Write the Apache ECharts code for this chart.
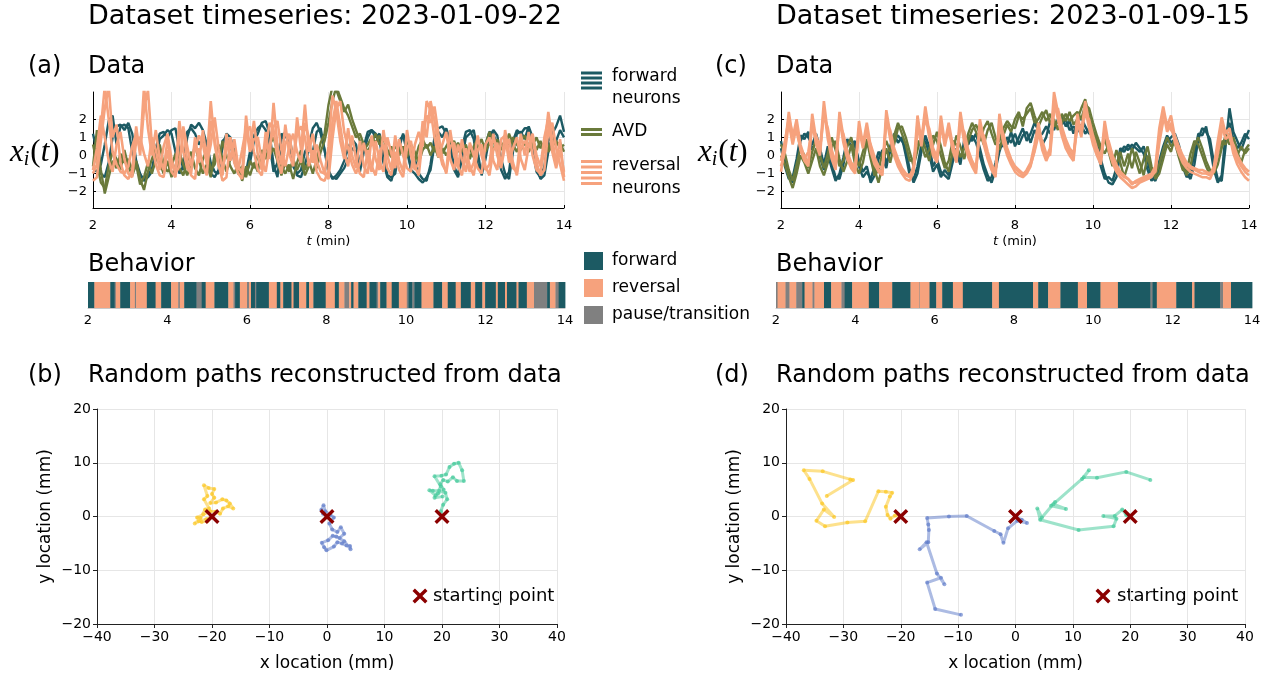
<!DOCTYPE html>
<html><head><meta charset="utf-8">
<script src="https://cdn.jsdelivr.net/npm/echarts@6/dist/echarts.min.js"></script>
<style>html,body{margin:0;padding:0;background:#fff}#c{width:1270px;height:676px}</style>
</head><body><div id="c"></div>
<script>
// ---------------- DATA ----------------
const timeStart = 2, timeStep = 0.1, timeCount = 121; // sample grid (min)
const yTicksData = [-2, -1, 0, 1, 2];

// Panel (a): dataset 2023-01-09-22
const revA1 = [-1.0,-0.5,1.5,3.8,2.0,0.2,-0.5,-0.9,-1.0,-0.6, 0.5,1.2,0.3,3.8,1.5,0.0,1.4,-0.2,-0.8,0.9, -0.5,-0.9,1.9,0.2,-0.7,-1.0,1.0,-0.4,1.4,-0.3, 3.0,0.6,-0.6,-1.1,1.2,-0.3,0.9,-0.6,-1.0,2.2, 0.3,1.9,0.0,-0.8,1.3,-0.2,2.9,0.5,-0.5,1.7, 0.1,-0.6,2.1,0.3,2.8,0.2,1.2,-0.3,-0.9,-1.0, 0.5,3.3,2.4,0.8,-0.2,1.5,0.0,-0.7,0.8,-0.6, -1.0,1.1,-0.2,-0.8,1.4,0.0,-0.8,1.1,-0.3,-0.9, 1.4,0.0,-0.8,-0.4,1.9,1.0,3.0,1.9,0.4,-0.5, -0.9,1.4,0.0,-0.7,0.9,-0.3,-0.9,-0.4,1.1,0.0, -0.8,-0.5,1.2,0.0,-0.7,1.4,0.1,-0.7,-0.9,1.2, 0.0,1.3,0.0,-0.8,-1.0,0.4,2.4,0.9,-0.4,0.9, -1.2];
const revA2 = [-1.4,-1.2,0.8,2.6,3.8,1.0,1.7,-0.4,-1.1,-1.3, -0.8,1.6,0.0,2.6,3.6,0.6,-0.5,-1.1,-1.2,0.3, -0.9,-1.2,1.1,1.4,-0.3,-1.1,-1.3,0.4,-0.5,-1.1, 1.9,0.9,-0.5,-1.4,-1.2,0.9,-0.4,-1.0,-1.3,1.2, 1.6,0.2,-0.8,-1.1,0.4,1.8,1.4,-0.2,-1.0,0.6, 1.2,-0.3,1.2,1.6,1.0,-0.6,0.3,-0.9,-1.3,-1.4, -0.8,1.8,3.0,1.6,0.2,-0.6,1.1,-0.2,-1.0,-1.2, 0.3,-0.6,-1.1,0.2,0.6,-0.7,-1.1,0.2,-0.8,-1.2, 0.4,0.8,-0.6,-1.1,1.0,2.2,1.8,2.7,1.2,-0.2, -1.0,0.5,0.7,-0.6,-1.1,0.4,-0.6,-1.1,0.3,0.6, -0.6,-1.1,0.3,0.7,-0.6,0.5,0.9,-0.4,-1.1,0.4, 0.8,0.5,1.0,-0.4,-1.1,-0.8,1.4,1.8,0.4,-0.5, -1.4];
const revA3 = [-0.8,0.4,2.2,1.0,-0.3,-0.9,0.6,1.3,-0.2,-1.0, -1.2,0.8,1.0,0.1,-0.6,1.0,0.3,-0.8,0.5,1.2, -0.2,-1.0,-0.6,1.6,0.5,-0.6,0.4,1.1,0.6,-0.5, 0.6,2.1,0.4,-0.8,0.3,1.0,0.0,-0.8,0.3,1.5, 0.2,0.9,1.0,-0.3,-0.9,0.5,1.6,1.9,0.3,-0.6, 0.5,1.2,0.2,-0.4,1.8,1.0,-0.4,0.6,-0.3,-1.0, -1.3,0.9,2.6,3.0,1.3,0.4,-0.5,-1.0,-0.4,0.7, -0.3,-0.9,0.8,-0.3,-0.9,1.0,0.1,-0.7,0.9,0.0, -0.7,-0.9,0.6,1.3,0.5,3.0,2.5,1.0,-0.1,0.6, 1.3,-0.2,-0.8,0.6,-0.2,-0.9,0.7,0.0,-0.7,-1.0, 0.6,1.0,-0.3,-0.8,0.9,1.1,-0.4,0.4,1.0,-0.2, -0.8,0.5,1.2,0.0,-0.6,1.0,2.0,0.2,-0.7,0.3, -0.9];
const fwdA1 = [-0.7,-0.9,-0.5,0.6,1.9,2.2,0.6,1.6,1.7,1.5, 0.2,-0.6,-1.1,-1.3,-1.0,-0.8,0.4,1.2,1.3,1.0, 1.4,1.5,0.3,-0.8,1.0,1.7,1.5,1.8,1.4,0.6, -0.4,-0.9,-1.0,0.5,1.2,1.0,0.3,-0.8,-1.2,-1.0, -0.4,0.8,1.2,1.8,1.9,1.2,-0.5,-1.2,0.9,1.3, 0.8,-0.6,-1.0,-0.8,0.2,0.6,1.5,1.8,1.2,0.3, -0.8,-1.3,-1.1,-0.8,-0.3,0.4,0.9,0.6,-0.5,0.5, 1.3,1.4,1.2,0.8,-0.4,-1.2,-1.4,-0.6,0.8,1.1, 0.2,-0.7,-0.2,-1.0,-1.3,-1.4,-0.5,1.0,1.5,1.6, 1.2,0.4,-0.6,-1.1,0.4,1.3,1.4,0.9,-0.5,-1.0, 0.6,1.3,1.2,0.5,-0.8,-1.3,-0.9,0.8,1.4,1.2, 1.5,1.5,0.3,-0.9,-1.2,-0.6,0.8,1.2,1.6,2.2, 1.3];
const fwdA2 = [1.2,0.2,-1.0,-1.2,-0.4,1.0,1.6,1.7,1.4,1.8, 1.2,-0.3,-1.0,-1.4,-1.2,-0.9,-0.2,0.9,1.1,1.4, 1.2,0.2,-1.0,-0.6,1.3,1.5,1.2,0.6,1.0,0.2, -1.0,-1.2,-0.8,0.8,1.0,0.6,-0.3,-1.0,-1.1,-0.9, 0.2,1.1,1.5,1.7,1.4,0.6,-0.9,-0.4,1.2,1.0, 1.1,-0.2,-1.1,-1.2,-0.5,0.3,0.2,1.3,1.5,0.3, -1.0,-1.2,-1.3,-1.0,-0.7,-0.2,0.4,0.2,-0.9,0.2, 1.0,1.4,1.0,1.2,0.2,-1.1,-1.2,-1.0,0.4,1.2, 0.6,-0.8,-1.0,-1.3,-1.5,-1.2,-0.8,0.6,1.3,1.0, 1.5,0.8,-0.8,-1.2,-0.2,1.0,1.2,1.4,0.2,-1.1, -0.2,1.0,1.4,1.1,-0.2,-1.0,-1.3,0.2,1.2,1.3, 0.9,1.6,1.0,-0.6,-1.3,-1.1,0.2,1.0,0.8,1.4, 1.0];
const avdA1 = [-0.6,1.4,-0.8,-2.1,-1.2,-0.3,-0.7,0.1,-0.4,-0.2, -0.8,-0.3,-1.3,-1.9,-0.9,-0.2,0.4,-0.4,-1.0,-0.3, -1.2,-0.6,0.2,-0.5,-1.1,-0.4,0.6,-0.3,-1.0,-0.5, -1.2,0.1,-0.4,0.8,0.0,-0.6,-1.0,-0.5,-1.4,-0.6, -1.1,-0.4,-0.9,0.3,-0.2,0.6,1.0,0.2,-0.6,-1.0, -0.5,-1.3,-0.4,0.3,-0.8,-0.3,-1.0,-0.2,0.7,1.2, 2.8,3.8,3.6,3.0,2.4,2.8,2.0,1.4,0.8,0.3, 0.6,1.0,0.7,1.1,0.4,0.0,0.5,-0.2,0.4,0.1, 0.8,0.3,-0.3,0.5,0.9,0.4,0.7,0.2,0.6,0.1, 0.5,0.9,0.3,0.7,0.2,0.6,-0.2,0.5,0.9,0.3, 0.6,1.3,0.8,0.2,0.7,0.4,1.2,0.6,0.2,0.8, 1.1,0.5,0.9,0.3,0.8,0.2,0.4,0.9,0.6,0.7, 0.2];
const avdA2 = [0.6,-0.4,-1.5,-1.8,-0.6,0.2,-0.2,-0.8,0.3,-0.6, -1.1,-0.5,-1.6,-1.2,-0.4,-1.0,-0.2,0.6,-0.5,-0.9, -0.6,0.1,-0.7,-1.1,-0.3,0.2,-0.7,-1.1,-0.2,0.3, -0.8,-0.5,0.6,-0.2,-0.9,-0.2,0.3,-0.9,-0.6,-1.2, -0.3,-0.7,0.0,-0.6,0.5,0.0,0.4,-0.3,-1.1,-0.4, -0.9,-0.2,-0.8,-0.3,-1.1,-0.6,0.1,-0.7,0.2,0.8, 1.8,3.0,3.8,3.2,2.6,2.2,1.6,1.0,1.2,0.6, 0.2,0.7,1.2,0.6,0.9,0.3,-0.1,0.6,0.0,0.5, -0.1,0.6,0.2,-0.4,0.3,0.6,0.0,0.5,-0.1,0.4, 0.0,0.4,0.8,0.2,0.6,0.1,0.4,-0.1,0.5,0.9, 0.2,0.7,0.3,0.9,0.3,0.8,0.5,1.0,0.6,0.3, 0.7,0.2,0.6,1.0,0.4,0.7,0.2,0.5,0.8,0.4, 0.6];

// Panel (c): dataset 2023-01-09-15
const revC1 = [-0.9,0.5,2.4,1.0,2.0,0.6,-0.1,-0.4,2.3,0.9, 0.2,3.0,1.2,0.0,-0.6,2.4,1.0,0.0,-0.5,-0.8, 1.9,0.6,1.8,0.5,-0.3,-0.8,-0.9,2.5,1.2,0.3, -0.4,-0.8,-1.1,-1.2,-0.6,2.2,0.8,2.7,1.3,0.2, -0.2,2.2,0.7,1.8,0.6,-0.2,2.4,1.0,0.1,-0.4, -0.8,2.0,0.9,0.0,-0.6,-1.0,2.3,1.0,0.2,-0.3, -0.7,-0.9,-1.1,-0.8,-0.4,0.6,1.8,0.6,-0.1,0.4, 3.5,2.4,1.4,0.7,0.2,-0.1,2.3,1.2,3.0,1.8, 0.9,0.2,-0.3,1.9,0.6,-0.2,-0.7,-1.0,-1.2,-1.3, -1.6,-1.4,-1.3,-1.2,-1.1,-1.0,-0.6,1.5,2.7,1.6, 2.2,1.0,0.3,-0.2,-0.5,-0.7,-0.8,-0.9,-1.0,-1.0, -1.1,-0.6,0.8,2.1,1.2,1.5,0.4,-0.2,-0.6,-0.9, -1.1];
const revC2 = [-0.6,0.2,1.8,0.6,1.6,0.3,-0.3,-0.6,1.8,0.6, 0.0,2.6,0.9,-0.2,-0.8,2.0,0.7,-0.2,-0.7,-1.0, 1.5,0.4,1.4,0.2,-0.5,-0.9,-1.1,2.1,0.9,0.0, -0.6,-1.0,-1.3,-1.4,-0.9,1.8,0.5,2.3,1.0,0.0, -0.4,1.8,0.5,1.5,0.3,-0.4,2.0,0.7,-0.1,-0.6, -1.0,1.7,0.6,-0.2,-0.8,-1.2,1.9,0.7,0.0,-0.5, -0.9,-1.1,-1.2,-1.0,-0.6,0.3,1.4,0.3,-0.3,0.2, 3.0,2.0,1.1,0.4,0.0,-0.3,1.9,1.0,2.6,1.5, 0.6,0.0,-0.5,1.5,0.3,-0.4,-0.9,-1.2,-1.4,-1.6, -1.8,-1.7,-1.5,-1.4,-1.3,-1.2,-0.8,1.1,2.4,1.3, 1.8,0.7,0.1,-0.4,-0.7,-0.9,-1.0,-1.1,-1.2,-1.2, -1.3,-0.8,0.4,1.7,0.9,1.1,0.1,-0.5,-0.9,-1.2, -1.4];
const revC3 = [-0.3,0.8,2.0,1.2,1.3,0.4,-0.2,0.2,1.6,1.1, 0.4,2.2,1.5,0.3,-0.4,1.7,1.2,0.2,-0.4,-0.6, 1.2,0.9,1.1,0.6,-0.1,-0.6,-0.7,1.8,1.4,0.4, -0.2,-0.7,-1.0,-1.1,-0.8,1.3,1.1,1.9,1.5,0.4, -0.1,1.4,1.0,1.2,0.7,-0.1,1.6,1.3,0.3,-0.3, -0.7,1.3,1.1,0.2,-0.5,-0.9,1.5,1.2,0.4,-0.2, -0.6,-0.8,-1.0,-0.9,-0.5,0.2,1.1,0.8,0.1,0.0, 2.4,2.6,1.6,0.9,0.4,0.1,1.5,1.6,2.2,2.0, 1.1,0.4,-0.1,1.1,0.8,0.0,-0.5,-0.9,-1.1,-1.3, -1.5,-1.5,-1.4,-1.3,-1.2,-1.1,-0.9,0.7,1.9,1.8, 1.4,1.1,0.5,0.0,-0.4,-0.6,-0.7,-0.8,-0.8,-0.9, -1.0,-0.9,0.1,1.3,1.4,1.0,0.6,0.0,-0.4,-0.7, -0.9];
const fwdC1 = [0.8,-0.3,-1.0,-1.5,-0.6,0.8,1.2,1.0,0.6,1.2, 0.4,-0.5,0.5,-0.4,-1.2,-1.3,-0.5,0.6,0.9,0.5, -0.3,-0.9,-0.6,-1.5,-1.1,-0.2,0.3,-0.4,0.2,0.9, 1.1,0.8,0.4,-0.8,-1.5,-1.0,0.2,1.1,0.5,-0.6, -0.2,-0.9,-1.1,-1.3,-0.4,0.4,-0.2,0.6,1.0,0.8, 1.2,0.4,-0.5,-1.1,-1.5,-0.8,0.2,0.9,0.6,1.3, 0.5,1.0,1.5,0.8,1.2,1.8,1.4,0.6,1.0,1.9, 1.4,2.0,2.2,1.6,1.9,1.2,1.8,2.1,1.6,1.2, 1.3,0.8,-0.2,-1.0,-1.5,-1.6,-1.2,0.1,0.5,0.3, 0.6,0.4,0.2,0.5,-0.3,-1.2,-1.4,-0.8,0.2,0.8, 1.0,1.2,0.6,-0.3,-1.0,-1.3,-0.5,0.9,1.5,1.3, 0.9,-0.4,-1.3,-1.4,0.5,2.6,1.3,0.8,0.3,0.9, 1.4];
const fwdC2 = [0.4,-0.6,-1.3,-1.2,-0.2,1.1,0.9,1.3,0.3,0.8, -0.1,-0.8,0.1,-0.7,-1.4,-1.0,-0.1,0.9,0.5,0.8, -0.6,-1.2,-0.9,-1.3,-0.6,0.2,-0.1,-0.7,0.5,1.2, 0.7,1.0,0.0,-1.1,-1.3,-0.6,0.6,0.8,0.1,-0.9, -0.5,-1.2,-0.8,-1.1,0.0,0.1,-0.5,0.9,0.6,1.1, 0.7,0.0,-0.8,-1.4,-1.2,-0.4,0.6,0.5,1.0,0.7, 1.2,0.6,1.1,1.3,0.7,1.4,1.0,1.2,1.6,1.2, 1.8,1.5,1.7,2.0,1.4,1.6,1.3,1.7,1.2,1.5, 0.9,0.4,-0.6,-1.3,-1.2,-1.4,-0.7,0.4,0.2,0.6, 0.3,0.7,0.4,0.1,-0.8,-1.4,-1.1,-0.3,0.5,1.1, 0.7,0.9,0.2,-0.6,-1.2,-1.0,0.1,1.2,1.1,1.6, 0.5,-0.8,-1.5,-1.1,1.2,1.8,0.9,0.4,0.7,1.2, 0.9];
const avdC1 = [0.0,-0.5,-1.2,-1.8,-1.0,0.0,-0.4,-1.0,-0.3,0.4, -0.6,-1.1,-0.4,0.5,0.8,-0.2,-0.9,-0.3,0.6,-0.5, -1.0,-0.4,0.7,0.2,-0.8,-1.5,-0.6,0.4,-0.4,0.6, 1.5,1.6,1.0,0.2,-0.6,0.3,1.1,0.4,-0.3,0.6, 1.3,0.5,-0.4,-0.9,0.2,1.1,0.5,-0.2,0.8,1.4, 1.7,1.2,0.6,1.4,1.8,1.0,0.3,1.1,1.7,1.3, 2.0,2.4,1.6,2.6,2.9,2.2,1.6,2.1,2.5,1.8, 2.0,1.4,2.3,1.9,2.4,1.7,2.0,2.6,3.1,2.2, 1.4,0.8,0.3,0.9,0.2,-0.6,0.3,-0.4,-1.2,-0.5, 0.4,-0.3,-1.0,-0.2,0.5,-0.6,-1.3,-1.0,-0.2,0.6, 0.2,1.0,0.4,-0.5,-1.1,-0.6,0.5,1.0,0.4,-0.3, -0.8,-1.0,-0.5,0.4,1.1,0.6,1.0,0.2,-0.4,0.3, 0.6];
const avdC2 = [0.6,0.1,-0.8,-1.4,-0.5,0.4,0.0,-0.7,0.2,0.9, 0.0,-0.7,0.1,1.0,0.3,-0.6,-0.3,0.5,1.0,0.0, -0.6,0.2,0.9,-0.2,-1.1,-0.8,0.1,0.8,0.2,1.1, 1.8,1.2,0.6,-0.3,-0.2,0.8,0.6,-0.1,0.3,1.1, 0.8,0.0,-0.7,-0.3,0.8,0.6,-0.1,0.4,1.2,1.8, 1.3,0.8,1.5,1.9,1.2,0.6,0.8,1.5,1.9,1.6, 1.5,2.2,2.0,2.3,2.6,1.8,2.0,2.4,1.9,2.3, 1.6,1.9,1.8,2.3,1.9,2.2,2.4,2.0,2.8,2.6, 1.8,1.1,0.5,0.1,0.6,0.0,-0.5,0.2,-0.6,0.1, -0.7,0.2,-0.4,-1.1,0.0,-0.9,-1.1,-0.5,0.3,1.0, 0.5,0.7,-0.1,-0.8,-0.9,0.1,0.8,0.6,0.0,-0.6, -1.1,-0.7,0.0,0.8,0.6,1.2,0.5,0.0,0.5,0.1, 0.4];

// Behaviour ethograms: segment edges (min) and state per segment (F forward, R reversal, G pause/transition)
const behA_edges = [2.00,2.16,2.56,2.67,2.70,2.81,3.06,3.18,3.21,3.48,3.70,3.84,4.09,4.27,4.31,4.42,4.73,4.86,4.96,5.18,5.53,5.66,5.70,5.82,6.00,6.05,6.10,6.20,6.23,6.55,6.75,6.84,6.91,7.12,7.17,7.31,7.49,7.56,7.67,7.98,8.21,8.31,8.45,8.57,8.62,8.68,8.80,9.01,9.08,9.26,9.30,9.35,9.51,9.64,9.82,10.02,10.06,10.16,10.21,10.39,10.69,10.91,11.05,11.25,11.38,11.63,11.74,11.92,11.99,12.26,12.31,12.49,12.54,12.78,12.83,13.04,13.22,13.55,13.62,13.76,13.84,14.00];
const behA_states = ('FRFGRFRGRF'+'RFRGRFGFRF'+'RGFRGRFGFR'+'FRFRFRFRFR'+'FRGRFRFRFG'+'RFRFRGFGFR'+'FRFRFRFRFR'+'FRFRFRGFRGF').split('');
const behC_edges = [2.00,2.04,2.24,2.34,2.51,2.66,2.72,2.92,2.97,3.21,3.39,3.65,3.73,3.92,4.34,4.60,4.93,5.39,5.61,5.62,5.87,6.04,6.19,6.46,6.71,7.45,7.62,8.48,8.61,8.86,9.17,9.61,9.84,10.18,10.62,11.44,11.49,11.60,12.09,12.49,12.55,13.20,13.27,13.47,14.00];
const behC_states = ('GRGRGFRGRF'+'RGFRFRFRGR'+'FRFRFRFRFR'+'FRFRFGFRFR'+'FGRF').split('');

// Random paths (x, y in mm)
const startPoints = [[-20,0],[0,0],[20,0]];
const pathB_yellow = [[-20,0],[-21,-0.5],[-22.3,-0.9],[-23,-1.3],[-22,-0.3],[-21.2,1.3],[-20.5,1.5],[-21.4,3.2],[-20.8,3.8],[-21.4,5.8],[-20.6,5.3],[-19.6,5.1],[-20,4.2],[-19.6,3.5],[-20.3,2.5],[-19.3,2.6],[-18.2,3.2],[-17.5,3.0],[-16.9,2.4],[-16.3,1.5],[-17.2,1.9],[-18.1,1.5],[-18.6,0.5],[-19.4,0.9],[-20.3,1.0],[-21.5,0.4],[-22.6,-0.2],[-21.8,-1.0],[-20.8,-0.9]];
const pathB_blue = [[0,0],[-0.7,0.5],[-1,1.2],[-0.6,2.1],[-0.3,1.0],[0.6,0.3],[1.2,-0.2],[0.4,-1.3],[0.9,-2.4],[1.8,-2.9],[2.4,-2.0],[3.0,-3.2],[2.2,-4.0],[1.0,-3.6],[0.2,-4.4],[-0.9,-4.9],[-0.5,-5.7],[-0.1,-6.3],[1.2,-5.6],[1.8,-4.8],[2.6,-5.0],[3.4,-5.4],[4.0,-5.5],[4.1,-6.1],[3.0,-4.6],[1.6,-3.7]];
const pathB_green = [[20,0],[19.8,1.0],[20.2,2.2],[20.9,3.2],[20.6,4.4],[19.5,4.8],[18.4,4.8],[17.8,4.9],[18.9,3.9],[19.8,5.6],[18.7,7.5],[19.9,7.6],[20.7,7.8],[21.3,9.2],[22.1,9.8],[22.9,10.0],[23.5,8.6],[23.8,6.6],[22.6,6.6],[21.9,7.3],[21.0,6.5],[20.2,6.8],[19.7,6.0],[20.3,5.0],[19.3,4.3],[18.7,3.5],[20.1,3.7]];
const pathD_yellow = [[-20,0],[-21,0.2],[-21.8,-0.4],[-22.3,0.3],[-22.6,1.8],[-21.9,3.7],[-21.5,4.4],[-22.6,4.6],[-23.9,4.7],[-26.2,-0.9],[-29.3,-1.1],[-33.2,-1.8],[-34.7,-0.8],[-33.4,1.3],[-31.6,-0.1],[-33.7,2.4],[-35.9,7.0],[-36.9,8.6],[-33.6,8.4],[-28.8,6.9],[-28.3,6.8],[-32.9,3.8]];
const pathD_blue = [[0,0],[1.1,-0.6],[2.0,-1.2],[0.3,-0.8],[-1.3,-2.2],[-2.1,-4.9],[-2.6,-3.3],[-3.7,-2.7],[-8.5,0.1],[-11.6,0.0],[-15.4,-0.3],[-15.2,-1.5],[-15.1,-2.5],[-15.2,-4.8],[-16.7,-6.1],[-15.5,-4.8],[-13.7,-10.6],[-12.4,-12.6],[-13.0,-11.4],[-15.4,-12.3],[-14.0,-17.2],[-9.5,-18.3]];
const pathD_green = [[20,0],[19.3,0.3],[18.6,1.3],[17.3,0.1],[15.3,0.1],[17.6,-0.4],[17.1,-1.8],[11.0,-2.5],[4.3,-0.6],[3.8,1.5],[4.6,-0.2],[6.9,2.7],[6.2,2.0],[8.8,1.4],[6.6,2.3],[11.6,7.0],[12.8,8.6],[11.9,7.3],[14.2,7.2],[19.3,8.3],[23.5,6.8]];

// ---------------- STYLE ----------------
const FONT = 'DejaVu Sans', SERIF = 'Liberation Serif';
const C_FWD = '#1c5a63', C_AVD = '#6a7a3b', C_REV = '#f6a27d', C_PAUSE = '#808080', C_START = '#8b0000';
const C_Y = '#fcc419', C_B = '#5a78c8', C_G = '#3cc896';
const STATE_COLOR = {F: C_FWD, R: C_REV, G: C_PAUSE};
const minus = v => v < 0 ? '\u2212' + Math.abs(v) : String(v);
const tGrid = Array.from({length: timeCount}, (_, i) => Math.round((timeStart + i * timeStep) * 10) / 10);
const XMARK = 'path://M3.2,0 L10,6.8 L16.8,0 L20,3.2 L13.2,10 L20,16.8 L16.8,20 L10,13.2 L3.2,20 L0,16.8 L6.8,10 L0,3.2 Z';
const XPOLY = [[3.2,0],[10,6.8],[16.8,0],[20,3.2],[13.2,10],[20,16.8],[16.8,20],[10,13.2],[3.2,20],[0,16.8],[6.8,10],[0,3.2]];

const grids = [
  {left: 93, top: 92, width: 471, height: 116},   // 0 data (a)
  {left: 88, top: 282, width: 477, height: 26},   // 1 behavior (a)
  {left: 97, top: 409, width: 460, height: 215},  // 2 paths (b)
  {left: 781, top: 92, width: 468, height: 116},  // 3 data (c)
  {left: 776, top: 282, width: 476, height: 26},  // 4 behavior (c)
  {left: 786, top: 409, width: 459, height: 215}  // 5 paths (d)
];
const gridLine = {show: true, lineStyle: {color: '#e6e6e6', width: 1}};
const lbl = (sz, m) => ({fontFamily: FONT, fontSize: sz, color: '#000', margin: m, formatter: minus});

const xAxes = [], yAxes = [];
[0, 3].forEach(g => {
  xAxes[g] = {gridIndex: g, type: 'value', min: 2, max: 14, interval: 2,
    axisLine: {show: true, onZero: false, lineStyle: {color: '#000', width: 1}},
    axisTick: {show: true, inside: true, length: 3, lineStyle: {color: '#000'}},
    axisLabel: lbl(13, 11), splitLine: gridLine,
    name: '{i|t} (min)', nameLocation: 'middle', nameGap: 27,
    nameTextStyle: {fontFamily: FONT, fontSize: 13, color: '#000', rich: {i: {fontFamily: FONT, fontSize: 13, fontStyle: 'italic', color: '#000'}}}};
  yAxes[g] = {gridIndex: g, type: 'value', min: -2.9, max: 3.5,
    axisLine: {show: true, onZero: false, lineStyle: {color: '#000', width: 1}},
    axisTick: {show: true, inside: true, length: 3, customValues: yTicksData, lineStyle: {color: '#000'}},
    axisLabel: Object.assign(lbl(13, 6), {customValues: yTicksData}), splitLine: gridLine};
});
[1, 4].forEach(g => {
  xAxes[g] = {gridIndex: g, type: 'value', min: 2, max: 14, interval: 2,
    axisLine: {show: true, onZero: false, lineStyle: {color: '#c8c8c8', width: 1}},
    axisTick: {show: false}, axisLabel: lbl(13, 6), splitLine: {show: false}};
  yAxes[g] = {gridIndex: g, type: 'value', min: 0, max: 1, show: false};
});
[2, 5].forEach(g => {
  xAxes[g] = {gridIndex: g, type: 'value', min: -40, max: 40, interval: 10,
    axisLine: {show: true, onZero: false, lineStyle: {color: '#222', width: 1}},
    axisTick: {show: true, length: 4, lineStyle: {color: '#222'}},
    axisLabel: lbl(14, 6), splitLine: gridLine,
    name: 'x location (mm)', nameLocation: 'middle', nameGap: 31,
    nameTextStyle: {fontFamily: FONT, fontSize: 17, color: '#000'}};
  yAxes[g] = {gridIndex: g, type: 'value', min: -20, max: 20, interval: 10,
    axisLine: {show: true, onZero: false, lineStyle: {color: '#222', width: 1}},
    axisTick: {show: true, length: 4, lineStyle: {color: '#222'}},
    axisLabel: lbl(14, 6), splitLine: gridLine,
    name: 'y location (mm)', nameLocation: 'middle', nameGap: 43, nameRotate: 90,
    nameTextStyle: {fontFamily: FONT, fontSize: 17, color: '#000'}};
});

const series = [];
function trace(arr, color, g, w) {
  series.push({type: 'line', xAxisIndex: g, yAxisIndex: g, silent: true, showSymbol: false,
    data: tGrid.map((t, i) => [t, arr[i]]), lineStyle: {color, width: w}, itemStyle: {color}, clip: true});
}
[[0, [fwdA1, fwdA2], [avdA1, avdA2], [revA1, revA2, revA3]],
 [3, [fwdC1, fwdC2], [avdC1, avdC2], [revC1, revC2, revC3]]].forEach(([g, fw, av, rv]) => {
  fw.forEach(a => trace(a, C_FWD, g, 2.4));
  av.forEach(a => trace(a, C_AVD, g, 2.4));
  rv.forEach(a => trace(a, C_REV, g, 2.6));
});

function ethogram(edges, states, g) {
  series.push({type: 'custom', xAxisIndex: g, yAxisIndex: g, silent: true,
    encode: {x: [0, 1]},
    data: states.map((s, i) => [edges[i], edges[i + 1], 'FRG'.indexOf(s)]),
    renderItem: (params, api) => {
      const a = api.coord([api.value(0), 1]);
      const b = api.coord([api.value(1), 0]);
      return {type: 'rect', shape: {x: a[0], y: a[1], width: b[0] - a[0] + 0.4, height: b[1] - a[1]},
        style: {fill: STATE_COLOR['FRG'[api.value(2)]]}};
    }});
}
ethogram(behA_edges, behA_states, 1);
ethogram(behC_edges, behC_states, 4);

function path(pts, color, g) {
  series.push({type: 'line', xAxisIndex: g, yAxisIndex: g, silent: true, data: pts,
    showSymbol: true, symbol: 'circle', symbolSize: 4,
    lineStyle: {color, width: 3, opacity: 0.5}, itemStyle: {color, opacity: 0.65}});
}
path(pathB_yellow, C_Y, 2); path(pathB_blue, C_B, 2); path(pathB_green, C_G, 2);
path(pathD_yellow, C_Y, 5); path(pathD_blue, C_B, 5); path(pathD_green, C_G, 5);
[2, 5].forEach(g => series.push({type: 'scatter', xAxisIndex: g, yAxisIndex: g, silent: true,
  data: startPoints, symbol: XMARK, symbolSize: 15, itemStyle: {color: C_START, opacity: 1}, z: 5}));

// ---------------- TEXT / LEGENDS ----------------
const G = [];
const txt = (x, y, s, sz) => G.push({type: 'text', x, y, silent: true,
  style: {text: s, fontFamily: FONT, fontSize: sz, fill: '#000', textVerticalAlign: 'middle', verticalAlign: 'middle'}});
txt(88, 17, 'Dataset timeseries: 2023-01-09-22', 27);
txt(776, 17, 'Dataset timeseries: 2023-01-09-15', 27);
txt(28, 67, '(a)', 24); txt(88, 67, 'Data', 24);
txt(715, 67, '(c)', 24); txt(776, 67, 'Data', 24);
txt(88, 265, 'Behavior', 24); txt(776, 265, 'Behavior', 24);
txt(28, 376, '(b)', 24); txt(88, 376, 'Random paths reconstructed from data', 24);
txt(715, 376, '(d)', 24); txt(776, 376, 'Random paths reconstructed from data', 24);
[[10, 153], [698, 153]].forEach(([x, y]) => G.push({type: 'text', x, y, silent: true, style: {
  text: '{v|x}{s|i}{p|(}{v|t}{p|)}', verticalAlign: 'middle', textVerticalAlign: 'middle',
  rich: {v: {fontFamily: SERIF, fontStyle: 'italic', fontSize: 31, fill: '#000', color: '#000'},
         s: {fontFamily: SERIF, fontStyle: 'italic', fontSize: 20, fill: '#000', color: '#000', padding: [14, 1, 0, 0]},
         p: {fontFamily: SERIF, fontSize: 31, fill: '#000', color: '#000'}}}}));

const hline = (x1, x2, y, color, w) => G.push({type: 'line', silent: true, shape: {x1, y1: y, x2, y2: y}, style: {stroke: color, lineWidth: w}});
[73, 78, 83, 88].forEach(y => hline(581, 602, y, C_FWD, 3));
txt(612, 77, 'forward', 17); txt(612, 99, 'neurons', 17);
[129.5, 134.5].forEach(y => hline(581, 602, y, C_AVD, 3));
txt(612, 132, 'AVD', 17);
[161.5, 167, 172.5, 178, 183.5].forEach(y => hline(581, 602, y, C_REV, 3));
txt(612, 166, 'reversal', 17); txt(612, 189, 'neurons', 17);
[[252, C_FWD, 'forward'], [279, C_REV, 'reversal'], [306, C_PAUSE, 'pause/transition']].forEach(([y, c, s]) => {
  G.push({type: 'rect', silent: true, shape: {x: 584, y, width: 19, height: 18}, style: {fill: c}});
  txt(612, y + 9, s, 17);
});
[[420, 433], [1103, 1117]].forEach(([cx, tx]) => {
  G.push({type: 'polygon', silent: true, x: cx - 7.5, y: 596 - 7.5, scaleX: 0.75, scaleY: 0.75,
    shape: {points: XPOLY}, style: {fill: C_START}});
  txt(tx, 596, 'starting point', 18);
});

const chart = echarts.init(document.getElementById('c'), null, {renderer: 'canvas'});
chart.setOption({animation: false, backgroundColor: '#fff', grid: grids, xAxis: xAxes, yAxis: yAxes, series, graphic: G});
</script></body></html>
